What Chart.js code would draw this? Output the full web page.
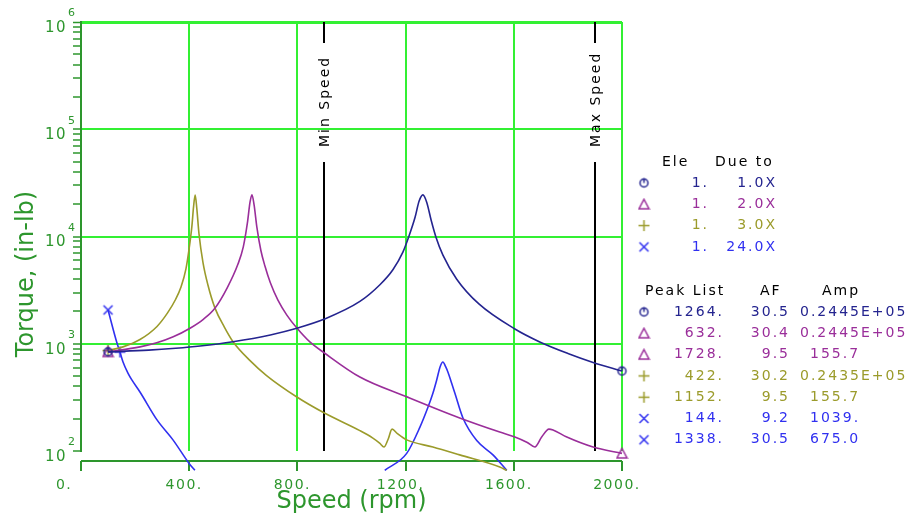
<!DOCTYPE html>
<html>
<head>
<meta charset="utf-8">
<script src="https://cdn.jsdelivr.net/npm/chart.js@4/dist/chart.umd.min.js"></script>
<style>
  html, body { margin: 0; padding: 0; background: #fff; }
  canvas { display: block; }
</style>
</head>
<body>
<canvas id="torqueChart" width="908" height="518"></canvas>
<script>
const speedTicks = [0, 400, 800, 1200, 1600, 2000];
const torqueDecades = [2, 3, 4, 5, 6];
const minorSteps = [2, 3, 4, 5, 6, 7, 8, 9];

// 1.0X order
const speed1X = [100, 250, 350, 440, 562, 700, 798, 900, 1031, 1105, 1153, 1190, 1212, 1235, 1250, 1264, 1278, 1295, 1312, 1338, 1389, 1471, 1604, 1696, 1800, 1893, 2000];
const torque1X = [840, 872, 908, 953, 1045, 1209, 1395, 1700, 2480, 3550, 4900, 7150, 10000, 15100, 21400, 24450, 20900, 14000, 9900, 6700, 4000, 2350, 1373, 1040, 812, 670, 557];

// 2.0X order
const speed2X = [100, 218, 280, 341, 403, 451, 495, 540, 580, 600, 615, 625, 632, 640, 650, 665, 680, 700, 728, 761, 798, 846, 900, 1031, 1204, 1400, 1548, 1604, 1650, 1678, 1703, 1730, 1745, 1796, 1893, 2000];
const torque2X = [838, 935, 1020, 1160, 1395, 1680, 2140, 3300, 5500, 8000, 13300, 21000, 24450, 19600, 12300, 7400, 5300, 3700, 2550, 1850, 1400, 1040, 820, 489, 320, 203, 150, 135, 120, 109, 135, 160, 157, 135, 109, 95];

// 3.0X order
const speed3X = [100, 155, 218, 281, 320, 350, 370, 388, 400, 410, 416, 422, 428, 436, 451, 469, 495, 530, 562, 624, 686, 798, 900, 1031, 1079, 1105, 1120, 1135, 1150, 1170, 1204, 1301, 1400, 1548, 1574];
const torque3X = [865, 935, 1095, 1450, 1940, 2600, 3400, 5000, 7800, 12500, 18800, 24350, 18400, 10700, 5720, 3550, 2160, 1430, 1045, 700, 505, 319, 226, 155, 132, 118, 109, 128, 160, 145, 127, 109, 92, 71, 66];

// 24.0X order (runs off the bottom between the two humps)
const speed24X = [100, 133, 144, 155, 174, 188, 218, 281, 340, 399, 421, 800, 1123, 1204, 1253, 1283, 1300, 1315, 1328, 1338, 1348, 1357, 1370, 1382, 1412, 1463, 1523, 1574];
const torque24X = [2066, 1016, 838, 680, 530, 460, 355, 195, 127, 77, 66, null, 66, 95, 167, 257, 340, 460, 614, 675, 611, 540, 430, 347, 203, 125, 92, 66];

const speedLimits = [900, 1900];
const speedLimitLabels = ["Min Speed", "Max Speed"];

const orderLabels = ["1.0X", "2.0X", "3.0X", "24.0X"];
const eleLabels = ["1.", "1.", "1.", "1."];

const peakOrder = [0, 1, 1, 2, 2, 3, 3];
const peakSpeeds = ["1264.", "632.", "1728.", "422.", "1152.", "144.", "1338."];
const peakAF = ["30.5", "30.4", "9.5", "30.2", "9.5", "9.2", "30.5"];
const peakAmp = ["0.2445E+05", "0.2445E+05", "155.7", "0.2435E+05", "155.7", "1039.", "675.0"];

const seriesColors = ["#24248f", "#9a2e9a", "#9b9b2b", "#3030f0"];
const gridGreen = "#33f033";
const axisGreen = "#2d962d";
const FONT = "'DejaVu Sans', sans-serif";

function isDecade(v) {
  const l = Math.log10(v);
  return Math.abs(l - Math.round(l)) < 1e-9;
}

const torqueTicks = [];
torqueDecades.forEach(d => {
  const base = Math.pow(10, d);
  torqueTicks.push(base);
  if (d < torqueDecades[torqueDecades.length - 1]) {
    minorSteps.forEach(m => torqueTicks.push(base * m));
  }
});

function makeMarker(kind, color) {
  const c = document.createElement("canvas");
  c.width = 13;
  c.height = 13;
  const g = c.getContext("2d");
  g.strokeStyle = color;
  g.lineWidth = 1.5;
  g.beginPath();
  if (kind === "circle") {
    g.arc(6.5, 6.5, 4, 0, Math.PI * 2);
    g.moveTo(6.5, 1.5);
    g.lineTo(6.5, 6.5);
  } else if (kind === "triangle") {
    g.moveTo(6.5, 1.5);
    g.lineTo(11.5, 11);
    g.lineTo(1.5, 11);
    g.closePath();
  } else if (kind === "plus") {
    g.moveTo(6.5, 1);
    g.lineTo(6.5, 12);
    g.moveTo(1, 6.5);
    g.lineTo(12, 6.5);
  } else {
    g.moveTo(2, 2);
    g.lineTo(11, 11);
    g.moveTo(11, 2);
    g.lineTo(2, 11);
  }
  g.stroke();
  return c;
}

const markerKinds = ["circle", "triangle", "plus", "cross"];
const markers = markerKinds.map((k, i) => makeMarker(k, seriesColors[i]));
const bluePlus = makeMarker("plus", seriesColors[3]);

function toPoints(xs, ys) {
  return xs.map((x, i) => ({ x: x, y: ys[i] }));
}

function curve(label, xs, ys, idx, markIdx, styleFn) {
  return {
    label: label,
    data: toPoints(xs, ys),
    borderColor: seriesColors[idx],
    borderWidth: 1.6,
    fill: false,
    cubicInterpolationMode: "monotone",
    spanGaps: false,
    pointStyle: styleFn || markers[idx],
    pointRadius: ctx => markIdx.includes(ctx.dataIndex) ? 5 : 0,
    pointHoverRadius: 0,
    clip: { left: 8, top: 0, right: 8, bottom: 20 }
  };
}

function drawText(ctx, str, x, y, color, align, size, spacing) {
  ctx.font = size + "px " + FONT;
  ctx.letterSpacing = spacing + "px";
  ctx.fillStyle = color;
  ctx.textAlign = align;
  ctx.textBaseline = "middle";
  ctx.fillText(str, align === "right" ? x + spacing : x, y);
}

const overlay = {
  id: "overlay",
  beforeDraw(chart) {
    chart.ctx.letterSpacing = "1.5px";
  },
  beforeDatasetsDraw(chart) {
    const { ctx, chartArea: a, scales: { x } } = chart;
    ctx.save();
    // detached speed axis below the plot
    const axisY = a.bottom + 10;
    ctx.strokeStyle = axisGreen;
    ctx.lineWidth = 2;
    ctx.beginPath();
    ctx.moveTo(x.getPixelForValue(speedTicks[0]), axisY);
    ctx.lineTo(x.getPixelForValue(speedTicks[speedTicks.length - 1]), axisY);
    speedTicks.forEach(v => {
      const px = Math.round(x.getPixelForValue(v));
      ctx.moveTo(px, axisY);
      ctx.lineTo(px, axisY + 10);
    });
    ctx.stroke();

    // min / max speed markers
    speedLimits.forEach((v, i) => {
      const px = Math.round(x.getPixelForValue(v));
      ctx.strokeStyle = "#000";
      ctx.lineWidth = 2;
      ctx.beginPath();
      ctx.moveTo(px, a.top);
      ctx.lineTo(px, a.top + 21);
      ctx.moveTo(px, a.top + 140);
      ctx.lineTo(px, a.bottom);
      ctx.stroke();
      ctx.save();
      ctx.translate(px + 1, a.top + 125);
      ctx.rotate(-Math.PI / 2);
      drawText(ctx, speedLimitLabels[i], 0, 0, "#000", "left", 14, 2);
      ctx.restore();
    });
    ctx.restore();
  },
  afterDraw(chart) {
    const { ctx, chartArea: a, scales: { y } } = chart;
    ctx.save();

    // exponents of the decade labels
    torqueTicks.filter(isDecade).forEach(v => {
      const py = y.getPixelForValue(v);
      drawText(ctx, String(Math.round(Math.log10(v))), 68, py - 8.5, axisGreen, "left", 11, 0.5);
    });

    // axis titles
    drawText(ctx, "Speed (rpm)", (a.left + a.right) / 2, 502, axisGreen, "center", 24, 0);
    ctx.save();
    ctx.translate(27, 274);
    ctx.rotate(-Math.PI / 2);
    drawText(ctx, "Torque, (in-lb)", 0, 0, axisGreen, "center", 24, 0);
    ctx.restore();

    // element / order table
    drawText(ctx, "Ele", 662, 162, "#000", "left", 14, 2);
    drawText(ctx, "Due to", 715, 162, "#000", "left", 14, 2);
    orderLabels.forEach((lab, i) => {
      const ry = 183 + i * 21.3;
      ctx.drawImage(markers[i], 644 - 6.5, ry - 6.5);
      drawText(ctx, eleLabels[i], 707, ry, seriesColors[i], "right", 14, 2);
      drawText(ctx, lab, 775, ry, seriesColors[i], "right", 14, 2);
    });

    // peak list
    drawText(ctx, "Peak List", 645, 291, "#000", "left", 14, 2);
    drawText(ctx, "AF", 760, 291, "#000", "left", 14, 2);
    drawText(ctx, "Amp", 822, 291, "#000", "left", 14, 2);
    peakSpeeds.forEach((sp, i) => {
      const ry = 312 + i * 21.3;
      const s = peakOrder[i];
      const col = seriesColors[s];
      ctx.drawImage(markers[s], 644 - 6.5, ry - 6.5);
      drawText(ctx, sp, 722, ry, col, "right", 14, 2);
      drawText(ctx, peakAF[i], 788, ry, col, "right", 14, 2);
      const ampX = peakAmp[i].indexOf("E") >= 0 ? 800 : 810;
      drawText(ctx, peakAmp[i], ampX, ry, col, "left", 14, 2);
    });
    ctx.restore();
  }
};

new Chart(document.getElementById("torqueChart"), {
  type: "line",
  data: {
    datasets: [
      curve("1.0X", speed1X, torque1X, 0, [0, speed1X.length - 1]),
      curve("2.0X", speed2X, torque2X, 1, [0, speed2X.length - 1]),
      curve("3.0X", speed3X, torque3X, 2, [0]),
      curve("24.0X", speed24X, torque24X, 3, [0, 2], ctx => ctx.dataIndex === 2 ? bluePlus : markers[3])
    ]
  },
  options: {
    responsive: false,
    animation: false,
    events: [],
    layout: { padding: { left: 0, right: 286, top: 22, bottom: 0 } },
    plugins: {
      legend: { display: false },
      tooltip: { enabled: false }
    },
    scales: {
      x: {
        type: "linear",
        min: 0,
        max: 2000,
        afterBuildTicks: scale => { scale.ticks = speedTicks.map(v => ({ value: v })); },
        afterFit: scale => { scale.height = 67; },
        grid: {
          color: c => c.tick && c.tick.value === 0 ? "rgba(0,0,0,0)" : gridGreen,
          lineWidth: 2,
          drawTicks: false
        },
        border: { display: false },
        ticks: {
          autoSkip: false,
          maxRotation: 0,
          padding: 26,
          labelOffset: -5,
          color: axisGreen,
          font: { family: FONT, size: 14 },
          callback: v => v === 0 ? "0.    " : v + "."
        }
      },
      y: {
        type: "logarithmic",
        min: 100,
        max: 1000000,
        afterBuildTicks: scale => { scale.ticks = torqueTicks.map(v => ({ value: v })); },
        afterFit: scale => { scale.width = 81; },
        grid: {
          color: c => (c.tick && isDecade(c.tick.value) && c.tick.value > 100) ? gridGreen : "rgba(0,0,0,0)",
          lineWidth: c => c.tick && c.tick.value === 1000000 ? 3 : 2,
          tickColor: axisGreen,
          tickLength: 8,
          tickWidth: 1.5
        },
        border: { display: true, color: axisGreen, width: 2 },
        ticks: {
          autoSkip: false,
          padding: 6,
          labelOffset: 6,
          color: axisGreen,
          font: { family: FONT, size: 15 },
          callback: v => isDecade(v) ? "10" : ""
        }
      }
    }
  },
  plugins: [overlay]
});
</script>
</body>
</html>
